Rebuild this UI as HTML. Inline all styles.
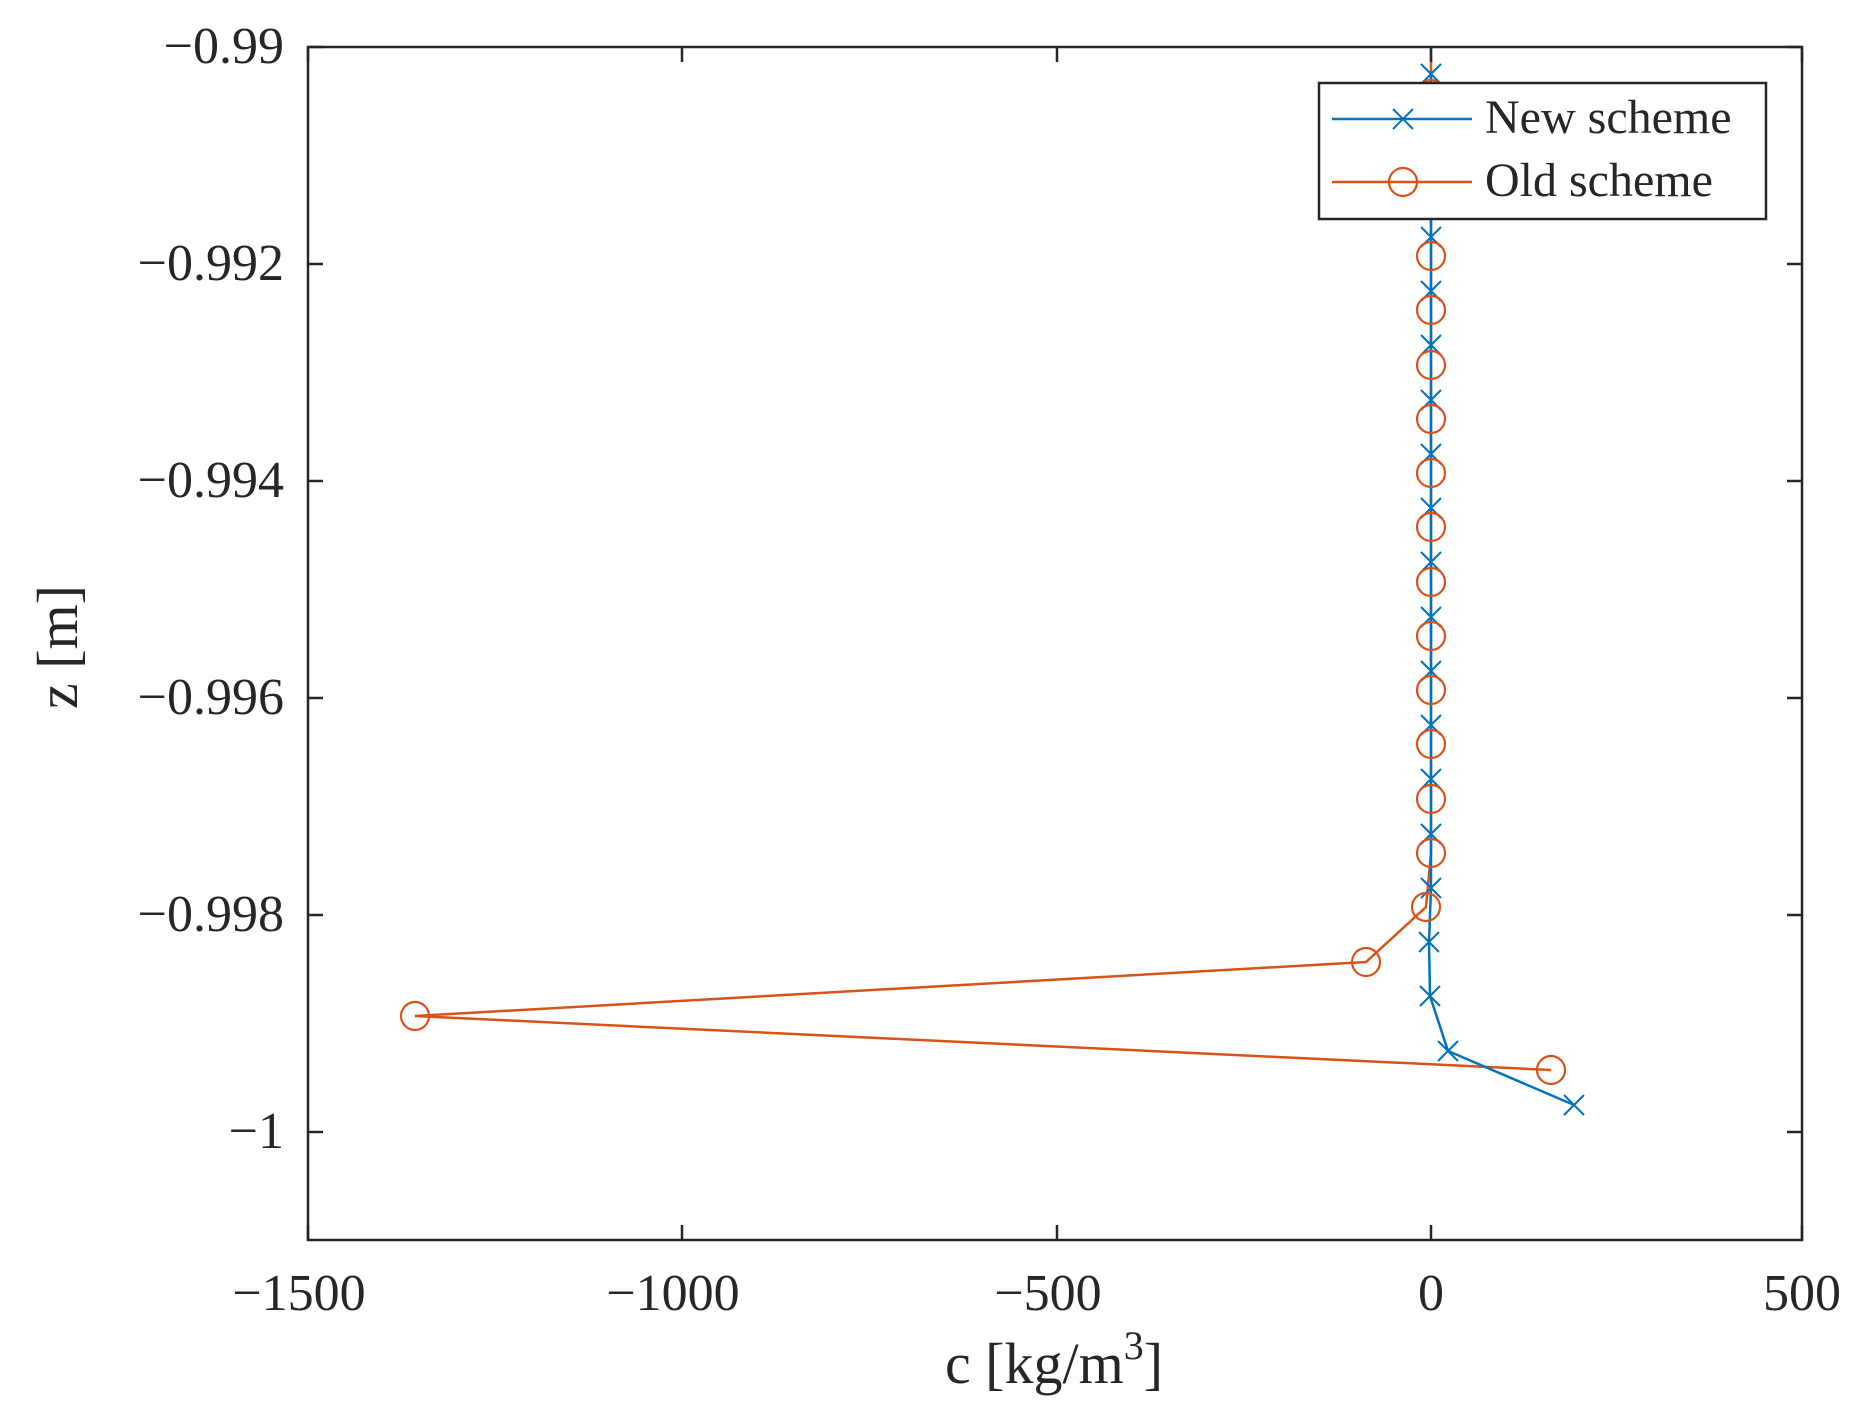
<!DOCTYPE html>
<html><head><meta charset="utf-8"><style>
html,body{margin:0;padding:0;background:#fff;}
svg{display:block;}
text{font-family:"Liberation Serif",serif;fill:#262626;}
</style></head><body>
<svg width="1865" height="1420" viewBox="0 0 1865 1420" xmlns="http://www.w3.org/2000/svg">
<rect width="1865" height="1420" fill="#fff"/>
<defs>
<g id="xm"><path d="M-10,-10L10,10M-10,10L10,-10" stroke="#0072BD" stroke-width="2" fill="none"/></g>
<g id="om"><circle r="14" stroke="#D95319" stroke-width="2.2" fill="none"/></g>
</defs>
<polyline fill="none" stroke="#D95319" stroke-width="2.5" points="1431,47 1431,853 1426,907 1366,962 415,1016 1551,1070"/>
<polyline fill="none" stroke="#0072BD" stroke-width="2.5" points="1431,74 1431,888 1429,942 1430,996 1448,1051 1574,1105"/>
<g>
<use href="#xm" x="1431" y="74"/><use href="#xm" x="1431" y="128"/><use href="#xm" x="1431" y="183"/><use href="#xm" x="1431" y="237"/>
<use href="#xm" x="1431" y="291"/><use href="#xm" x="1431" y="345"/><use href="#xm" x="1431" y="400"/><use href="#xm" x="1431" y="454"/>
<use href="#xm" x="1431" y="508"/><use href="#xm" x="1431" y="562"/><use href="#xm" x="1431" y="617"/><use href="#xm" x="1431" y="671"/>
<use href="#xm" x="1431" y="725"/><use href="#xm" x="1431" y="779"/><use href="#xm" x="1431" y="834"/><use href="#xm" x="1431" y="888"/>
<use href="#xm" x="1429" y="942"/><use href="#xm" x="1430" y="996"/><use href="#xm" x="1448" y="1051"/><use href="#xm" x="1574" y="1105"/>
</g>
<g>
<use href="#om" x="1431" y="94"/><use href="#om" x="1431" y="148"/><use href="#om" x="1431" y="202"/><use href="#om" x="1431" y="256"/>
<use href="#om" x="1431" y="310"/><use href="#om" x="1431" y="365"/><use href="#om" x="1431" y="419"/><use href="#om" x="1431" y="473"/>
<use href="#om" x="1431" y="527"/><use href="#om" x="1431" y="582"/><use href="#om" x="1431" y="636"/><use href="#om" x="1431" y="690"/>
<use href="#om" x="1431" y="744"/><use href="#om" x="1431" y="799"/><use href="#om" x="1431" y="853"/><use href="#om" x="1426" y="907"/>
<use href="#om" x="1366" y="962"/><use href="#om" x="415" y="1016"/><use href="#om" x="1551" y="1070"/>
</g>
<rect x="308" y="47" width="1494" height="1193" fill="none" stroke="#262626" stroke-width="2.5"/>
<g stroke="#262626" stroke-width="2.5">
<path d="M308,47h15M308,264h15M308,481h15M308,698h15M308,915h15M308,1132h15"/>
<path d="M1802,47h-15M1802,264h-15M1802,481h-15M1802,698h-15M1802,915h-15M1802,1132h-15"/>
<path d="M308,1240v-15M682,1240v-15M1057,1240v-15M1431,1240v-15M1802,1240v-15"/>
<path d="M308,47v15M682,47v15M1057,47v15M1431,47v15M1802,47v15"/>
</g>
<g font-size="52" text-anchor="end">
<text x="284" y="63">−0.99</text>
<text x="284" y="280">−0.992</text>
<text x="284" y="497">−0.994</text>
<text x="284" y="714">−0.996</text>
<text x="284" y="931">−0.998</text>
<text x="284" y="1148">−1</text>
</g>
<g font-size="52" text-anchor="middle">
<text x="299" y="1310">−1500</text>
<text x="673" y="1310">−1000</text>
<text x="1048" y="1310">−500</text>
<text x="1431" y="1310">0</text>
<text x="1802" y="1310">500</text>
</g>
<text x="1054" y="1383" font-size="58" text-anchor="middle">c [kg/m<tspan font-size="40" dy="-24">3</tspan><tspan dy="24">]</tspan></text>
<text transform="translate(77,647) rotate(-90)" font-size="58" text-anchor="middle">z [m]</text>
<rect x="1319" y="83" width="447" height="136" fill="#fff" stroke="#262626" stroke-width="2.5"/>
<line x1="1332" y1="119" x2="1472" y2="119" stroke="#0072BD" stroke-width="2.5"/>
<use href="#xm" x="1403" y="119"/>
<line x1="1332" y1="182" x2="1472" y2="182" stroke="#D95319" stroke-width="2.5"/>
<use href="#om" x="1403" y="182"/>
<g font-size="48"><text x="1485" y="133">New scheme</text><text x="1485" y="196">Old scheme</text></g>
</svg>
</body></html>
